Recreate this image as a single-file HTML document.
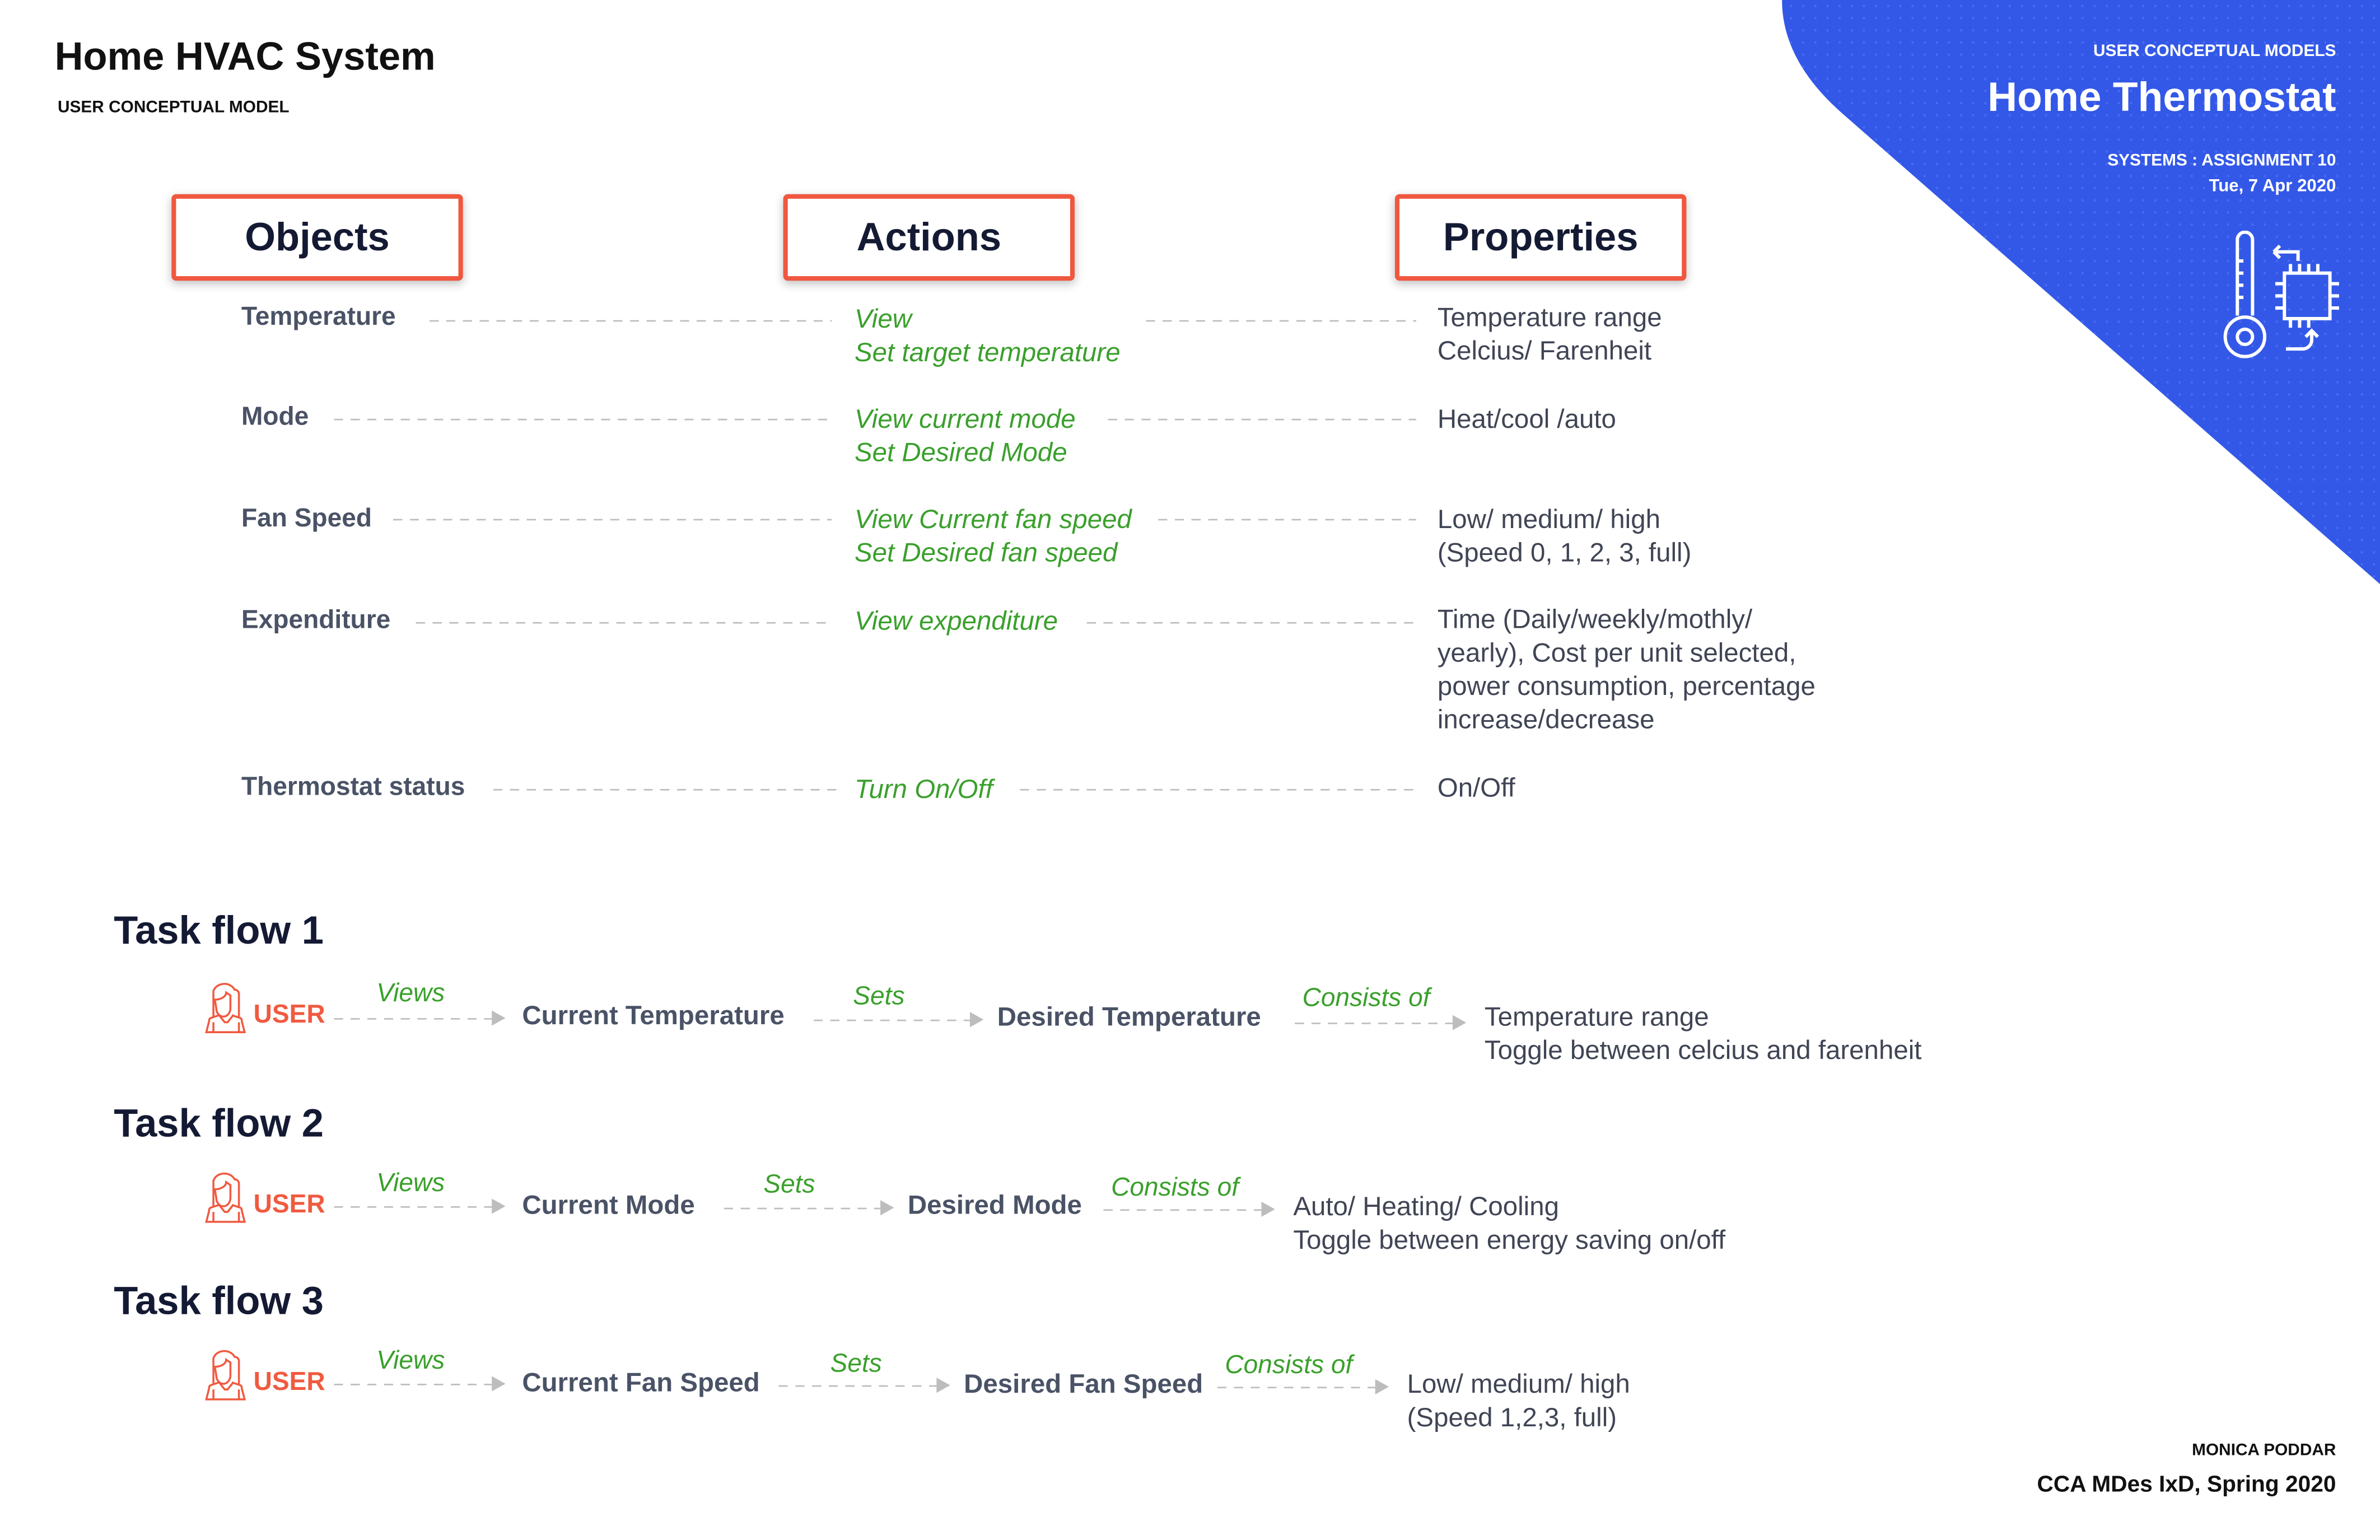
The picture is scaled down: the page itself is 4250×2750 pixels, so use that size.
<!DOCTYPE html>
<html><head><meta charset="utf-8">
<style>
html,body{margin:0;padding:0;width:4250px;height:2750px;overflow:hidden;background:#fff}
#stage{position:absolute;left:0;top:0;width:1568px;height:1015px;transform:scale(2.7105,2.7094);transform-origin:0 0;font-family:"Liberation Sans",sans-serif}
.a{position:absolute;white-space:nowrap}
.obj{color:#4a5266;font-weight:bold;font-size:17px}
.act{color:#3aa02c;font-style:italic;font-size:17.5px;line-height:22px}
.prop{color:#404555;font-size:17.5px;line-height:22px}
.hdr{position:absolute;width:186px;height:51px;border:3px solid #f0573f;border-radius:3px;box-shadow:0 2px 6px rgba(0,0,0,.25);font-weight:bold;font-size:26px;color:#141a33;text-align:center;line-height:51px;background:#fff}
.dash{position:absolute;height:1.4px;background:repeating-linear-gradient(90deg,#bdbdbd 0 6px,transparent 6px 11px)}
.tf{color:#141a33;font-weight:bold;font-size:26px}
.user{color:#f05a40;font-weight:bold;font-size:17px}
.node{color:#4a5266;font-weight:bold;font-size:17.5px}
.verb{color:#3aa02c;font-style:italic;font-size:17px}
.arrow{position:absolute;width:0;height:0;border-left:9px solid #bdbdbd;border-top:5px solid transparent;border-bottom:5px solid transparent}
</style></head><body>
<div id="stage">
<svg class="a" style="left:0;top:0" width="1568" height="1015">
<defs><pattern id="dots" width="8" height="8" patternUnits="userSpaceOnUse"><circle cx="4" cy="4" r="0.8" fill="#4a6cf0"/></pattern></defs>
<path d="M1174,0 L1568,0 L1568,385 L1214,75 Q1174,40 1174,0 Z" fill="#3358e8"/>
<path d="M1174,0 L1568,0 L1568,385 L1214,75 Q1174,40 1174,0 Z" fill="url(#dots)"/>
</svg>
<div class="a" style="left:36px;top:22px;font-size:26px;font-weight:bold;color:#111">Home HVAC System</div>
<div class="a" style="left:38px;top:65px;font-size:11px;font-weight:bold;color:#111">USER CONCEPTUAL MODEL</div>

<div class="a" style="right:29px;top:28px;font-size:11px;font-weight:bold;color:#fff">USER CONCEPTUAL MODELS</div>
<div class="a" style="right:29px;top:49px;font-size:27px;font-weight:bold;color:#fff">Home Thermostat</div>
<div class="a" style="right:29px;top:100px;font-size:11px;font-weight:bold;color:#fff">SYSTEMS : ASSIGNMENT 10</div>
<div class="a" style="right:29px;top:117px;font-size:11.5px;font-weight:bold;color:#fff">Tue, 7 Apr 2020</div>
<svg class="a" style="left:1462px;top:152px" width="82" height="90" viewBox="0 0 82 90" fill="none" stroke="#fff" stroke-width="2.2">
<path d="M12,56 V6 a5,5 0 0 1 10,0 V56"/><circle cx="17" cy="70" r="13"/><circle cx="17" cy="70" r="5"/>
<path d="M12,20h4M12,28h4M12,36h4M12,44h4"/>
<path d="M36,14 H52 V20 M36,14 l4,-4 M36,14 l4,4"/>
<rect x="43" y="28" width="30" height="30"/><path d="M47,22v6M53,22v6M59,22v6M65,22v6M47,58v6M53,58v6M59,58v6M37,35h6M37,43h6M37,51h6M73,35h6M73,43h6M73,51h6"/>
<path d="M44,78 H55 a6,6 0 0 0 6,-6 V66 M57,70 l4,-4 l4,4"/>
</svg>

<div class="hdr" style="left:113px;top:128px">Objects</div>
<div class="hdr" style="left:516px;top:128px">Actions</div>
<div class="hdr" style="left:919px;top:128px">Properties</div>

<div class="a obj" style="left:159px;top:199px">Temperature</div>
<div class="dash" style="left:283px;width:265px;top:211px"></div>
<div class="a act" style="left:563px;top:199px">View<br>Set target temperature</div>
<div class="dash" style="left:755px;width:178px;top:211px"></div>
<div class="a prop" style="left:947px;top:198px">Temperature range<br>Celcius/ Farenheit</div>

<div class="a obj" style="left:159px;top:265px">Mode</div>
<div class="dash" style="left:220px;width:328px;top:276px"></div>
<div class="a act" style="left:563px;top:265px">View current mode<br>Set Desired Mode</div>
<div class="dash" style="left:730px;width:203px;top:276px"></div>
<div class="a prop" style="left:947px;top:265px">Heat/cool /auto</div>

<div class="a obj" style="left:159px;top:332px">Fan Speed</div>
<div class="dash" style="left:259px;width:289px;top:342px"></div>
<div class="a act" style="left:563px;top:331px">View Current fan speed<br>Set Desired fan speed</div>
<div class="dash" style="left:763px;width:170px;top:342px"></div>
<div class="a prop" style="left:947px;top:331px">Low/ medium/ high<br>(Speed 0, 1, 2, 3, full)</div>

<div class="a obj" style="left:159px;top:399px">Expenditure</div>
<div class="dash" style="left:274px;width:274px;top:410px"></div>
<div class="a act" style="left:563px;top:398px">View expenditure</div>
<div class="dash" style="left:716px;width:217px;top:410px"></div>
<div class="a prop" style="left:947px;top:397px">Time (Daily/weekly/mothly/<br>yearly), Cost per unit selected,<br>power consumption, percentage<br>increase/decrease</div>

<div class="a obj" style="left:159px;top:509px">Thermostat status</div>
<div class="dash" style="left:325px;width:230px;top:520px"></div>
<div class="a act" style="left:563px;top:509px">Turn On/Off</div>
<div class="dash" style="left:672px;width:263px;top:520px"></div>
<div class="a prop" style="left:947px;top:508px">On/Off</div>

<div class="a tf" style="left:75px;top:598px">Task flow 1</div>
<div class="a tf" style="left:75px;top:725px">Task flow 2</div>
<div class="a tf" style="left:75px;top:842px">Task flow 3</div>

<svg style="display:none"><symbol id="usr" viewBox="0 0 30 38"><g fill="none" stroke="#f05a40" stroke-width="1.4"><path d="M6,26 V8 a8,7 0 0 1 15,-1 a3,3 0 0 1 3,3 V26"/><path d="M7,14 a8,5 0 0 0 8,-5 l3,2 V20 a5,6 0 0 1 -10,0 z"/><path d="M10,25 l-6,2 a2,2 0 0 0 -1,2 l-2,8 H28 l-2,-8 a2,2 0 0 0 -1,-2 l-6,-2 M10,25 l4,5 h2 l4,-5 M6,30v7M24,30v7"/></g></symbol></svg>

<svg class="a" style="left:135px;top:645px" width="28" height="37"><use href="#usr"/></svg>
<div class="a user" style="left:167px;top:659px">USER</div>
<div class="a verb" style="left:248px;top:645px">Views</div>
<div class="dash" style="left:220px;width:104px;top:671px"></div><div class="arrow" style="left:324px;top:666px"></div>
<div class="a node" style="left:344px;top:659px">Current Temperature</div>
<div class="a verb" style="left:562px;top:647px">Sets</div>
<div class="dash" style="left:536px;width:103px;top:672px"></div><div class="arrow" style="left:639px;top:667px"></div>
<div class="a node" style="left:657px;top:660px">Desired Temperature</div>
<div class="a verb" style="left:858px;top:648px">Consists of</div>
<div class="dash" style="left:853px;width:104px;top:674px"></div><div class="arrow" style="left:957px;top:669px"></div>
<div class="a prop" style="left:978px;top:659px">Temperature range<br>Toggle between celcius and farenheit</div>

<svg class="a" style="left:135px;top:770px" width="28" height="37"><use href="#usr"/></svg>
<div class="a user" style="left:167px;top:784px">USER</div>
<div class="a verb" style="left:248px;top:770px">Views</div>
<div class="dash" style="left:220px;width:104px;top:795px"></div><div class="arrow" style="left:324px;top:790px"></div>
<div class="a node" style="left:344px;top:784px">Current Mode</div>
<div class="a verb" style="left:503px;top:771px">Sets</div>
<div class="dash" style="left:477px;width:103px;top:796px"></div><div class="arrow" style="left:580px;top:791px"></div>
<div class="a node" style="left:598px;top:784px">Desired Mode</div>
<div class="a verb" style="left:732px;top:773px">Consists of</div>
<div class="dash" style="left:727px;width:104px;top:797px"></div><div class="arrow" style="left:831px;top:792px"></div>
<div class="a prop" style="left:852px;top:784px">Auto/ Heating/ Cooling<br>Toggle between energy saving on/off</div>

<svg class="a" style="left:135px;top:887px" width="28" height="37"><use href="#usr"/></svg>
<div class="a user" style="left:167px;top:901px">USER</div>
<div class="a verb" style="left:248px;top:887px">Views</div>
<div class="dash" style="left:220px;width:104px;top:912px"></div><div class="arrow" style="left:324px;top:907px"></div>
<div class="a node" style="left:344px;top:901px">Current Fan Speed</div>
<div class="a verb" style="left:547px;top:889px">Sets</div>
<div class="dash" style="left:513px;width:104px;top:913px"></div><div class="arrow" style="left:617px;top:908px"></div>
<div class="a node" style="left:635px;top:902px">Desired Fan Speed</div>
<div class="a verb" style="left:807px;top:890px">Consists of</div>
<div class="dash" style="left:802px;width:104px;top:914px"></div><div class="arrow" style="left:906px;top:909px"></div>
<div class="a prop" style="left:927px;top:901px">Low/ medium/ high<br>(Speed 1,2,3, full)</div>

<div class="a" style="right:29px;top:950px;font-size:11px;font-weight:bold;color:#111">MONICA PODDAR</div>
<div class="a" style="right:29px;top:970px;font-size:15px;font-weight:bold;color:#111">CCA MDes IxD, Spring 2020</div>
</div>
</body></html>
